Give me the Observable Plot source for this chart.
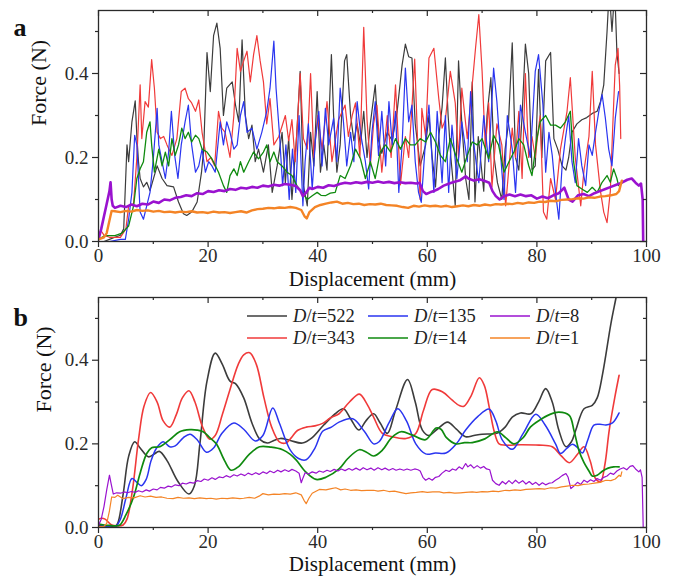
<!DOCTYPE html>
<html><head><meta charset="utf-8">
<script src="https://cdn.jsdelivr.net/npm/d3@7"></script>
<script src="https://cdn.jsdelivr.net/npm/@observablehq/plot@0.6"></script>
<style>
body{margin:0;background:#fff;font-family:"Liberation Serif","Times New Roman",serif;}
#wrap{position:relative;width:678px;height:581px;overflow:hidden;}
.panel{position:absolute;left:0;}
.leg{position:absolute;display:flex;align-items:center;font-size:18.5px;color:#222;white-space:nowrap;line-height:1;}
.leg svg{margin-right:6px;}
</style></head><body>
<div id="wrap"><div id="pa" class="panel" style="top:0"></div><div id="pb" class="panel" style="top:290px"></div></div>
<script>
// ---------- series names / colours ----------
const seriesNames = ["522","343","135","14","8","1"];
const seriesColors = ["#3c3c3c","#f03a3a","#2a35f0","#0f8a0f","#9a12cf","#f48426"];
// ---------- axes ----------
const xMajor = [0,20,40,60,80,100];
const xMinor = [10,30,50,70,90];
const yMajor = [0,0.2,0.4];
const yMinor = [0.1,0.3,0.5];
const xTitle = "Displacement (mm)";
const yTitle = "Force (N)";

// ---------- panel a (raw) [displacement mm, force N] ----------
const blackA = [[0,0],[1,0],[2,0.005],[3,0.01],[4,0.015],[4.6,0.03],[5.2,0.23],[5.5,0.19],[6.1,0.285],[6.7,0.335],[7,0.25],[7.3,0.19],[7.6,0.15],[8.2,0.13],[8.8,0.141],[9.4,0.121],[10.7,0.18],[11.6,0.15],[12.5,0.133],[13.7,0.13],[14.6,0.094],[15.5,0.066],[16.1,0.062],[17,0.07],[18,0.094],[18.8,0.165],[19.2,0.22],[19.8,0.45],[20.4,0.357],[21,0.49],[21.6,0.52],[22.2,0.46],[22.8,0.3],[23.4,0.365],[24.4,0.38],[25,0.325],[25.6,0.285],[26.2,0.48],[26.8,0.3],[27.4,0.245],[28,0.277],[28.6,0.19],[29.2,0.22],[30.1,0.165],[31,0.23],[31.7,0.117],[32.6,0.18],[33.5,0.26],[34.1,0.14],[34.7,0.245],[35.3,0.1],[36.2,0.26],[36.8,0.405],[37.4,0.133],[38.1,0.085],[38.7,0.26],[39.3,0.18],[39.9,0.357],[40.5,0.165],[41.1,0.23],[41.7,0.17],[42.5,0.445],[42.9,0.3],[43.5,0.165],[44.1,0.23],[44.9,0.43],[45.3,0.445],[46,0.3],[46.6,0.24],[47.2,0.28],[47.8,0.23],[48.4,0.31],[49,0.2],[49.6,0.28],[50.5,0.373],[51.1,0.24],[51.7,0.21],[52.7,0.26],[53.6,0.24],[54.5,0.31],[55.4,0.42],[56,0.47],[56.6,0.44],[57.2,0.437],[57.8,0.28],[58.7,0.18],[59.7,0.23],[60.3,0.3],[60.9,0.2],[61.5,0.13],[62.1,0.25],[62.7,0.32],[63.3,0.437],[63.8,0.3],[64.3,0.2],[65.1,0.085],[65.7,0.43],[66.3,0.28],[67,0.15],[67.6,0.1],[68.2,0.38],[68.7,0.094],[69.3,0.25],[70.3,0.12],[70.9,0.3],[71.6,0.39],[72.2,0.2],[72.8,0.14],[73.6,0.1],[74.2,0.22],[74.8,0.28],[75.5,0.473],[76.1,0.2],[76.7,0.17],[77.3,0.3],[77.9,0.47],[78.5,0.4],[79.1,0.17],[79.7,0.18],[80.3,0.41],[80.9,0.2],[81.6,0.43],[82.5,0.45],[83.1,0.245],[83.8,0.22],[84.6,0.18],[85.3,0.17],[85.8,0.2],[86.4,0.26],[87.3,0.28],[88.2,0.29],[89.1,0.295],[90.1,0.305],[91,0.31],[91.6,0.333],[92.2,0.373],[92.8,0.5],[93.2,0.6],[93.7,0.5],[94.2,0.6],[94.6,0.45],[95,0.4]];
const redA = [[0,0.02],[0.5,0.025],[1,0.015],[2,0.01],[3,0.01],[4,0.01],[5,0.03],[5.5,0.085],[6.4,0.09],[7,0.2],[7.6,0.373],[7.9,0.245],[8.5,0.333],[9.1,0.32],[9.7,0.433],[10.2,0.365],[10.7,0.26],[11.3,0.245],[11.9,0.25],[12.5,0.23],[13.4,0.205],[14.3,0.245],[15.1,0.357],[15.8,0.365],[16.4,0.34],[17,0.33],[17.7,0.31],[18.3,0.337],[18.9,0.26],[19.8,0.19],[20.5,0.2],[21.2,0.18],[21.9,0.31],[22.5,0.27],[23.1,0.26],[24,0.2],[24.7,0.3],[25.3,0.46],[25.9,0.405],[26.5,0.43],[27.1,0.453],[27.7,0.38],[28.3,0.445],[28.9,0.49],[29.5,0.43],[30.1,0.38],[30.7,0.28],[31.3,0.34],[32,0.23],[32.9,0.25],[34.1,0.3],[34.7,0.24],[35.3,0.29],[35.9,0.19],[36.8,0.4],[37.4,0.245],[38.1,0.22],[38.7,0.4],[39.3,0.2],[40,0.3],[40.8,0.22],[41.7,0.333],[42.6,0.19],[43.8,0.29],[45,0.325],[45.6,0.25],[46.3,0.3],[46.9,0.33],[47.7,0.2],[48.4,0.51],[49,0.29],[49.6,0.18],[50.2,0.28],[50.8,0.325],[51.7,0.165],[52.7,0.3],[53.4,0.2],[54.2,0.373],[55.1,0.135],[56,0.25],[56.6,0.2],[57.2,0.32],[57.7,0.434],[58.2,0.25],[58.7,0.1],[59,0.317],[59.7,0.25],[60.3,0.437],[61.2,0.46],[62.1,0.34],[62.7,0.27],[63.3,0.29],[64.2,0.405],[65.1,0.33],[65.7,0.2],[66.3,0.365],[67.3,0.245],[67.9,0.33],[68.8,0.46],[69.4,0.54],[70,0.405],[70.6,0.22],[71.2,0.33],[71.8,0.13],[72.7,0.28],[73.6,0.23],[74.3,0.085],[75.5,0.27],[76.1,0.2],[76.7,0.31],[77.3,0.15],[77.9,0.4],[78.5,0.2],[79.1,0.25],[79.7,0.2],[80.3,0.27],[80.6,0.3],[81.2,0.07],[81.8,0.053],[82.5,0.15],[83.4,0.1],[84.3,0.22],[85.5,0.31],[86.1,0.39],[87,0.2],[88,0.085],[88.6,0.17],[89.5,0.25],[90.1,0.405],[90.7,0.23],[91.6,0.12],[92.2,0.07],[92.8,0.045],[93.4,0.12],[93.8,0.26],[94.3,0.42],[94.8,0.46],[95.1,0.37],[95.3,0.245]];
const blueA = [[0,0],[2,0],[4,0.005],[4.9,0.005],[5.5,0.053],[6.1,0.117],[6.6,0.253],[7,0.23],[7.6,0.07],[8.2,0.053],[8.8,0.085],[9.4,0.117],[10,0.197],[10.7,0.317],[11,0.23],[11.6,0.19],[12.2,0.15],[12.8,0.213],[13.3,0.31],[13.9,0.205],[14.5,0.15],[15.1,0.23],[15.8,0.285],[16.4,0.325],[17,0.23],[17.7,0.165],[18.3,0.18],[18.9,0.22],[19.5,0.165],[20.1,0.19],[20.7,0.18],[21.3,0.165],[22.2,0.285],[22.8,0.23],[23.4,0.285],[24,0.26],[24.7,0.22],[25.3,0.23],[25.9,0.3],[26.5,0.333],[27.1,0.26],[28,0.27],[28.9,0.22],[29.8,0.26],[30.7,0.31],[31.3,0.365],[32,0.477],[32.4,0.365],[33,0.26],[33.6,0.133],[34.2,0.23],[34.8,0.1],[35.4,0.22],[36,0.117],[36.6,0.3],[37.3,0.085],[37.7,0.19],[38.3,0.28],[39,0.125],[39.6,0.245],[40.2,0.31],[40.8,0.18],[41.4,0.317],[42,0.23],[42.9,0.293],[43.5,0.19],[44.1,0.365],[44.7,0.285],[45.3,0.18],[46,0.26],[46.6,0.19],[47.2,0.333],[47.8,0.26],[48.7,0.19],[49.3,0.125],[49.9,0.26],[50.5,0.333],[51.1,0.205],[51.7,0.31],[52.4,0.18],[53,0.333],[53.6,0.23],[54.2,0.31],[54.8,0.117],[55.4,0.23],[56,0.413],[56.6,0.285],[57.2,0.325],[57.8,0.19],[58.4,0.117],[58.9,0.093],[59.7,0.245],[60.3,0.325],[61.2,0.117],[61.8,0.31],[62.7,0.14],[63.3,0.3],[63.9,0.117],[64.5,0.277],[65.4,0.15],[66.3,0.285],[67.3,0.19],[67.9,0.357],[68.5,0.23],[69.4,0.14],[70.3,0.3],[71.2,0.19],[72.1,0.413],[72.7,0.333],[73.3,0.22],[74,0.1],[74.6,0.3],[75.5,0.22],[76.1,0.117],[77,0.325],[77.9,0.26],[78.8,0.2],[79.7,0.405],[80.3,0.445],[81.1,0.325],[81.6,0.165],[82.2,0.26],[82.8,0.205],[83.4,0.117],[84,0.053],[84.6,0.18],[85.2,0.245],[85.8,0.3],[86.4,0.19],[87,0.14],[87.6,0.245],[88.2,0.18],[88.9,0.133],[89.5,0.23],[90.1,0.205],[90.7,0.26],[91.3,0.31],[91.9,0.35],[92.5,0.293],[93.1,0.22],[93.7,0.18],[94.3,0.293],[94.9,0.357]];
const greenA = [[0,0.005],[1.2,0.014],[3,0.014],[4.3,0.02],[5.5,0.037],[6.4,0.085],[7,0.15],[7.6,0.173],[8.2,0.19],[8.8,0.26],[9.4,0.285],[9.7,0.23],[10.2,0.165],[11,0.22],[11.6,0.18],[12.2,0.213],[12.8,0.18],[13.4,0.245],[14,0.205],[14.6,0.23],[15.2,0.27],[15.8,0.245],[16.4,0.26],[17,0.237],[17.7,0.253],[18.3,0.245],[18.9,0.22],[19.8,0.213],[20.7,0.197],[21.9,0.165],[22.8,0.133],[23.4,0.117],[24,0.157],[24.7,0.173],[25.3,0.157],[25.9,0.19],[26.5,0.165],[27.4,0.19],[28.3,0.213],[29.2,0.197],[30.1,0.213],[30.7,0.23],[31.3,0.19],[32,0.213],[32.6,0.19],[33.5,0.18],[34.4,0.165],[35.3,0.157],[36.2,0.133],[37.1,0.117],[38.1,0.1],[39,0.109],[39.9,0.117],[40.6,0.11],[41.4,0.109],[42.3,0.115],[43.2,0.117],[44.1,0.157],[45,0.15],[46,0.181],[46.9,0.22],[47.8,0.197],[48.7,0.15],[49.6,0.19],[50.5,0.15],[51.4,0.213],[52.4,0.23],[53.3,0.213],[54.2,0.245],[55.1,0.22],[56,0.245],[56.9,0.23],[57.8,0.23],[58.7,0.245],[59.7,0.237],[60.6,0.26],[61.5,0.237],[62.4,0.205],[63.3,0.19],[64.2,0.245],[65.4,0.197],[66.3,0.165],[67.3,0.205],[68.2,0.237],[69.1,0.23],[70,0.245],[71.2,0.197],[72.1,0.253],[73,0.23],[74,0.165],[74.9,0.19],[75.8,0.213],[76.7,0.245],[77.6,0.23],[78.5,0.181],[79.1,0.157],[80,0.245],[80.6,0.285],[81.6,0.3],[82.5,0.277],[83.4,0.277],[84.3,0.27],[85.2,0.285],[86.1,0.31],[86.7,0.19],[87.3,0.133],[88.2,0.125],[89.2,0.117],[90.1,0.129],[91,0.117],[91.9,0.141],[92.8,0.157],[93.4,0.141],[94,0.173],[94.6,0.15],[94.9,0.133]];
const purpleA = [[0,0.005],[0.5,0.03],[1,0.06],[1.5,0.09],[2,0.12],[2.2,0.141],[2.4,0.1],[2.6,0.085],[3,0.08],[4,0.085],[5,0.082],[6,0.088],[7,0.084],[8,0.09],[9,0.088],[10,0.095],[11,0.092],[12,0.1],[13,0.098],[14,0.104],[15,0.106],[16,0.11],[17,0.108],[18,0.115],[19,0.113],[20,0.12],[21,0.118],[22,0.122],[23,0.12],[24,0.125],[25,0.123],[26,0.128],[27,0.126],[28,0.13],[29,0.128],[30,0.133],[31,0.131],[32,0.135],[33,0.133],[34,0.137],[35,0.135],[36,0.132],[36.8,0.122],[37.3,0.108],[37.8,0.115],[38.5,0.128],[39,0.125],[40,0.13],[41,0.128],[42,0.134],[43,0.132],[44,0.137],[45,0.14],[46,0.138],[47,0.141],[48,0.139],[49,0.142],[50,0.14],[51,0.143],[52,0.14],[53,0.142],[54,0.139],[55,0.141],[56,0.139],[57,0.14],[58,0.138],[58.6,0.14],[59.2,0.12],[59.8,0.113],[60.5,0.117],[61.2,0.12],[62,0.125],[63,0.133],[64,0.138],[65,0.142],[66,0.146],[67,0.155],[67.5,0.15],[68.5,0.145],[69.5,0.148],[70.5,0.144],[71.3,0.14],[71.9,0.12],[72.5,0.108],[73.2,0.1],[74,0.108],[75,0.112],[76,0.108],[77,0.112],[78,0.108],[79,0.11],[80,0.102],[81,0.107],[82,0.103],[83,0.11],[84,0.115],[85,0.128],[85.8,0.1],[86.5,0.095],[87.5,0.11],[88.5,0.113],[89.5,0.108],[90.5,0.115],[91.5,0.12],[92.5,0.125],[93.5,0.13],[94.5,0.135],[95.5,0.14],[96.5,0.147],[97.3,0.15],[98,0.14],[98.6,0.133],[99,0.138],[99.3,0.1],[99.4,0]];
const orangeA = [[0,0.005],[1,0.01],[1.5,0.02],[2,0.05],[2.4,0.073],[3,0.072],[4,0.07],[5,0.073],[6,0.071],[7,0.075],[8,0.073],[9,0.074],[10,0.071],[11,0.073],[12,0.07],[13,0.071],[14,0.069],[15,0.071],[16,0.07],[17,0.072],[18,0.069],[19,0.07],[20,0.068],[21,0.071],[22,0.069],[23,0.07],[24,0.068],[25,0.07],[26,0.072],[27,0.069],[28,0.074],[29,0.077],[30,0.078],[31,0.08],[32,0.079],[33,0.081],[34,0.08],[35,0.082],[36,0.08],[37,0.075],[37.6,0.06],[38,0.055],[38.5,0.07],[39.5,0.082],[40.5,0.087],[41.5,0.09],[42.5,0.093],[43.5,0.095],[44.5,0.09],[45.5,0.092],[46.5,0.089],[47.5,0.09],[48.5,0.087],[49.5,0.089],[50.5,0.088],[51.5,0.09],[52.5,0.087],[53.5,0.086],[54.5,0.085],[55.5,0.082],[56.5,0.08],[57.5,0.085],[58.5,0.083],[59.5,0.086],[60.5,0.084],[61.5,0.085],[62.5,0.083],[63.5,0.085],[64.5,0.082],[65.5,0.084],[66.5,0.086],[67.5,0.084],[68.5,0.087],[69.5,0.085],[70.5,0.088],[71.5,0.086],[72.5,0.089],[73.5,0.088],[74.5,0.09],[75.5,0.089],[76.5,0.092],[77.5,0.09],[78.5,0.093],[79.5,0.092],[80.5,0.095],[81.5,0.094],[82.5,0.097],[83.5,0.096],[84.5,0.099],[85.5,0.1],[86.5,0.101],[87.5,0.103],[88.5,0.102],[89.5,0.105],[90.5,0.104],[91.5,0.107],[92.5,0.108],[93.5,0.11],[94.5,0.113],[95,0.12],[95.3,0.135],[95.5,0.145]];

// ---------- panel b (smoothed) ----------
const blackB = [[0,0.005],[1,0.004],[2,0.003],[3,0.003],[3.5,0.01],[4.5,0.08],[5.5,0.17],[6.6,0.205],[7.6,0.19],[9.1,0.169],[10.1,0.175],[11.1,0.182],[12.5,0.16],[14.5,0.11],[16.5,0.08],[17.5,0.1],[18.5,0.2],[19.8,0.35],[21.3,0.417],[22.6,0.39],[24,0.35],[25,0.344],[26.5,0.31],[28,0.25],[29.5,0.21],[30.8,0.202],[32,0.208],[33.2,0.213],[35,0.208],[37.2,0.202],[39,0.215],[41.1,0.245],[43.2,0.272],[44.7,0.284],[46,0.26],[47.5,0.233],[48.8,0.255],[50.2,0.272],[51.4,0.25],[52.7,0.225],[54.2,0.28],[56.4,0.354],[57.8,0.3],[59.1,0.233],[60.3,0.22],[61.8,0.235],[63.7,0.252],[65.3,0.235],[67,0.217],[68.5,0.22],[70,0.223],[72.8,0.226],[74.2,0.24],[75.5,0.264],[77,0.274],[78.9,0.272],[80.3,0.3],[81.6,0.332],[82.8,0.3],[84,0.233],[85.3,0.193],[86.3,0.205],[87.1,0.233],[88.6,0.284],[90.1,0.292],[91,0.31],[92,0.368],[93.5,0.487],[94.4,0.547],[95.5,0.62]];
const redB = [[0,0.02],[0.6,0.022],[1.2,0.02],[2.4,0.006],[3.5,0.004],[4.5,0.006],[5.2,0.02],[6.2,0.09],[7.3,0.21],[8.3,0.29],[9.5,0.323],[10.7,0.3],[11.8,0.255],[13,0.24],[14.2,0.27],[15.3,0.31],[16.5,0.327],[17.6,0.3],[19,0.24],[20.3,0.211],[21.3,0.22],[22.6,0.27],[24,0.33],[25.5,0.39],[26.5,0.413],[27.6,0.418],[28.8,0.39],[30.2,0.31],[31.6,0.24],[33,0.205],[34.2,0.202],[35.2,0.215],[36.3,0.232],[37.9,0.24],[39.5,0.243],[40.9,0.249],[42.3,0.262],[43.9,0.272],[45.8,0.3],[47.6,0.319],[49,0.295],[50.2,0.264],[51.8,0.225],[53.6,0.217],[56.1,0.213],[57.9,0.225],[59.3,0.28],[60.9,0.33],[62.8,0.324],[64.5,0.305],[65.8,0.292],[66.7,0.29],[68,0.315],[69.5,0.358],[70.4,0.34],[71.3,0.288],[72.2,0.23],[73.1,0.2],[74.3,0.197],[77,0.198],[80.4,0.197],[82.8,0.193],[84.4,0.172],[85.9,0.155],[87.4,0.175],[88.6,0.193],[89.7,0.16],[90.7,0.117],[91.6,0.109],[92.4,0.15],[93.2,0.233],[94.2,0.31],[95,0.364]];
const blueB = [[0,0.008],[1,0.005],[2,0.002],[3,0],[4,0.02],[5,0.07],[6.1,0.117],[7,0.108],[7.8,0.1],[8.7,0.115],[9.6,0.16],[10.6,0.19],[11.8,0.205],[13,0.193],[14,0.195],[15.5,0.215],[16.7,0.223],[18,0.21],[19.7,0.18],[21,0.19],[22.5,0.225],[24.7,0.25],[26.5,0.235],[28.6,0.207],[30,0.22],[31.8,0.286],[33,0.25],[35,0.185],[36.5,0.165],[37.9,0.162],[39.5,0.19],[40.9,0.23],[42.5,0.24],[43.9,0.252],[46.4,0.26],[48.5,0.23],[50.2,0.2],[51.2,0.205],[53,0.25],[54.6,0.284],[56.2,0.255],[57.9,0.2],[59.7,0.176],[61.5,0.178],[63.4,0.178],[65.3,0.2],[67,0.233],[69.2,0.265],[71.3,0.283],[72.5,0.255],[73.7,0.209],[75.5,0.187],[77.5,0.225],[79.8,0.271],[81.5,0.245],[83.4,0.2],[84.3,0.177],[85.5,0.19],[86.5,0.199],[87.5,0.19],[88.3,0.178],[89.3,0.21],[90.4,0.245],[91.5,0.247],[92.6,0.245],[93.8,0.25],[95,0.274]];
const greenB = [[0,0.008],[1,0.006],[2,0.005],[3,0.004],[3.9,0.006],[5,0.03],[6.4,0.073],[7.6,0.13],[8.8,0.177],[9.7,0.191],[11.2,0.193],[13,0.21],[14.8,0.229],[16.7,0.234],[18,0.233],[19.1,0.229],[20.3,0.215],[21.5,0.2],[23,0.16],[24.2,0.137],[25.5,0.145],[27.5,0.175],[29.4,0.193],[31.5,0.192],[33.6,0.186],[35,0.175],[36.1,0.161],[37.8,0.133],[39.7,0.115],[41.5,0.12],[43.9,0.14],[45.5,0.165],[47.6,0.186],[48.9,0.18],[50.2,0.171],[51.8,0.185],[53.5,0.215],[55.2,0.229],[57.3,0.221],[59.7,0.21],[61.6,0.238],[62.5,0.235],[63.5,0.215],[65.2,0.2],[66.8,0.203],[68.2,0.203],[70.5,0.212],[72.8,0.229],[74.3,0.215],[75.8,0.2],[77.5,0.215],[78.8,0.24],[80.4,0.256],[82.3,0.27],[84,0.276],[85.9,0.268],[86.8,0.23],[87.7,0.183],[88.6,0.155],[89.5,0.135],[90.1,0.123],[91,0.125],[92,0.135],[93,0.142],[94,0.145],[95,0.145]];
const purpleB = [[0,0.005],[0.5,0.02],[1,0.05],[1.5,0.09],[2,0.125],[2.3,0.105],[2.7,0.08],[3.3,0.083],[4,0.082],[4.7,0.085],[5.3,0.083],[6,0.086],[6.7,0.084],[7.3,0.088],[8,0.085],[8.7,0.09],[9.3,0.087],[10,0.092],[10.7,0.09],[11.3,0.096],[12,0.094],[12.7,0.099],[13.3,0.097],[14,0.102],[14.7,0.1],[15.3,0.106],[16,0.104],[16.7,0.108],[17.3,0.106],[18,0.112],[18.7,0.11],[19.3,0.116],[20,0.113],[20.7,0.119],[21.3,0.115],[22,0.121],[22.7,0.119],[23.3,0.124],[24,0.12],[24.7,0.126],[25.3,0.123],[26,0.128],[26.7,0.124],[27.3,0.13],[28,0.126],[28.7,0.131],[29.3,0.127],[30,0.133],[30.7,0.129],[31.3,0.135],[32,0.131],[32.7,0.137],[33.3,0.133],[34,0.138],[34.7,0.134],[35.3,0.139],[36,0.135],[36.6,0.13],[37,0.107],[37.3,0.118],[37.7,0.131],[38.3,0.128],[39,0.133],[39.7,0.13],[40.3,0.135],[41,0.132],[41.7,0.137],[42.3,0.134],[43,0.139],[43.7,0.135],[44.3,0.14],[45,0.136],[45.7,0.141],[46.3,0.137],[47,0.142],[47.7,0.137],[48.3,0.143],[49,0.138],[49.7,0.142],[50.3,0.137],[51,0.143],[51.7,0.138],[52.3,0.142],[53,0.137],[53.7,0.141],[54.3,0.137],[55,0.14],[55.7,0.137],[56.3,0.14],[57,0.137],[57.7,0.14],[58.3,0.138],[58.7,0.135],[59.2,0.12],[59.7,0.113],[60.3,0.118],[60.9,0.113],[61.5,0.12],[62.1,0.122],[62.7,0.13],[63.4,0.137],[64,0.134],[64.6,0.14],[65.2,0.137],[65.8,0.145],[66.4,0.14],[67,0.153],[67.4,0.145],[67.9,0.15],[68.5,0.142],[69.1,0.148],[69.7,0.142],[70.3,0.146],[70.8,0.14],[71.4,0.138],[71.9,0.113],[72.5,0.105],[73.1,0.101],[73.7,0.11],[74.3,0.104],[74.9,0.112],[75.5,0.105],[76.1,0.113],[76.7,0.106],[77.4,0.112],[78,0.104],[78.6,0.11],[79.2,0.103],[79.8,0.108],[80.4,0.101],[81,0.107],[81.6,0.102],[82.2,0.106],[82.8,0.107],[83.4,0.113],[84,0.118],[84.6,0.124],[85.3,0.129],[85.7,0.12],[86.2,0.093],[86.8,0.1],[87.4,0.108],[88,0.103],[88.6,0.113],[89.2,0.108],[89.8,0.114],[90.4,0.11],[91,0.117],[91.6,0.113],[92.2,0.12],[92.8,0.123],[93.4,0.13],[94,0.127],[94.6,0.135],[95.2,0.14],[95.8,0.143],[96.4,0.138],[97,0.146],[97.5,0.148],[98,0.14],[98.6,0.133],[98.9,0.138],[99.2,0.12],[99.4,0]];
const orangeB = [[0,0.002],[1,0.003],[1.5,0.01],[2,0.04],[2.4,0.073],[3,0.072],[3.5,0.077],[4.5,0.069],[5.5,0.072],[6.5,0.071],[7.6,0.076],[8.5,0.073],[9.5,0.075],[10.5,0.072],[11.5,0.073],[12.5,0.07],[13.6,0.069],[14.5,0.072],[15.5,0.07],[16.5,0.071],[17.5,0.069],[18.5,0.071],[19.7,0.069],[20.5,0.07],[21.5,0.068],[22.5,0.07],[23.5,0.069],[24.5,0.071],[25.8,0.069],[26.5,0.07],[27.5,0.072],[28.5,0.07],[29.3,0.075],[30,0.081],[31,0.078],[32,0.08],[33,0.079],[34,0.081],[35,0.08],[36,0.083],[37,0.078],[37.5,0.065],[37.9,0.057],[38.4,0.07],[39,0.082],[40.3,0.091],[41.5,0.09],[42.5,0.093],[43.3,0.095],[44.2,0.09],[45,0.092],[46,0.089],[47,0.09],[48,0.088],[49,0.089],[50.2,0.089],[51,0.087],[52,0.089],[53,0.086],[54,0.087],[55,0.084],[56.1,0.081],[57,0.083],[58,0.084],[59.1,0.086],[60,0.084],[61,0.085],[62.2,0.085],[63,0.083],[64,0.084],[65,0.082],[66,0.083],[67,0.084],[68.2,0.085],[69,0.084],[70,0.086],[71,0.085],[72,0.087],[73,0.086],[74.3,0.089],[75,0.088],[76,0.09],[77,0.089],[78,0.091],[79,0.092],[80.4,0.093],[81.5,0.092],[82.5,0.095],[83.5,0.094],[84.5,0.097],[85.5,0.099],[86.5,0.101],[87.5,0.1],[88.5,0.103],[89.5,0.104],[90.5,0.106],[91.5,0.108],[92.6,0.113],[93.5,0.112],[94.3,0.116],[95,0.125],[95.3,0.122],[95.5,0.133]];

const seriesA = [blackA, redA, blueA, greenA, purpleA, orangeA];
const seriesB = [blackB, redB, blueB, greenB, purpleB, orangeB];

const W = 678, ML = 98, MR = 32;
const font = '"Liberation Serif","Times New Roman",serif';

function panel(series, {height, mt, mb, letter, widths, curves, letterDy, titleDy, yTitleDx}) {
  const fw = W - ML - MR, fh = height - mt - mb;
  const lines = series.map((pts, i) => Plot.line(pts, {
    x: d => d[0], y: d => d[1], stroke: seriesColors[i], strokeWidth: widths[i],
    curve: curves[i], clip: true, strokeLinejoin: "round"
  }));
  return Plot.plot({
    width: W, height, marginTop: mt, marginBottom: mb, marginLeft: ML, marginRight: MR,
    x: {domain: [0, 100]}, y: {domain: [0, 0.55]},
    style: {fontFamily: font, fontSize: "19px", color: "#2a2a2a", background: "transparent", overflow: "visible"},
    marks: [
      ...lines,
      Plot.frame({stroke: "#2a2a2a", strokeWidth: 1.3}),
      Plot.axisX({ticks: xMajor, tickSize: 6, tickPadding: 1, tickFormat: d => String(d), label: null, fontSize: 19, strokeWidth: 1.2}),
      Plot.axisX({ticks: xMinor, tickSize: 3, tickFormat: () => "", label: null, strokeWidth: 1.2}),
      Plot.axisY({ticks: yMajor, tickSize: 6, tickPadding: 4, tickFormat: d3.format(".1f"), label: null, fontSize: 19, strokeWidth: 1.2}),
      Plot.axisY({ticks: yMinor, tickSize: 3, tickFormat: () => "", label: null, strokeWidth: 1.2}),
      Plot.tickX(xMajor, {x: d => d, insetBottom: fh - 6, stroke: "#2a2a2a", strokeWidth: 1.2}),
      Plot.tickX(xMinor, {x: d => d, insetBottom: fh - 3, stroke: "#2a2a2a", strokeWidth: 1.2}),
      Plot.tickY(yMajor, {y: d => d, insetLeft: fw - 6, stroke: "#2a2a2a", strokeWidth: 1.2}),
      Plot.tickY(yMinor, {y: d => d, insetLeft: fw - 3, stroke: "#2a2a2a", strokeWidth: 1.2}),
      Plot.text([xTitle], {frameAnchor: "bottom", dy: titleDy, fontSize: 21, fill: "#111"}),
      Plot.text([yTitle], {frameAnchor: "left", rotate: -90, dx: yTitleDx, fontSize: 22, fill: "#111"}),
      Plot.text([letter], {frameAnchor: "top-left", dx: -85, dy: letterDy, textAnchor: "start", fontSize: 26, fontWeight: "bold", fill: "#111"})
    ]
  });
}

document.getElementById("pa").append(panel(seriesA, {
  height: 290, mt: 10, mb: 49, letter: "a",
  widths: [1.2, 1.2, 1.2, 1.3, 2.6, 2.4],
  curves: ["linear","linear","linear","linear","linear","linear"],
  letterDy: 7, titleDy: 44, yTitleDx: -60
}));
document.getElementById("pb").append(panel(seriesB, {
  height: 291, mt: 7, mb: 54, letter: "b",
  widths: [1.6, 1.6, 1.5, 1.7, 1.2, 1.2],
  curves: ["catmull-rom","catmull-rom","catmull-rom","catmull-rom","linear","linear"],
  letterDy: 10, titleDy: 43, yTitleDx: -55
}));

// ---------- legend (panel b) ----------
const legendCols = [247, 368, 490];
const legendRows = [316, 338];
const wrap = document.getElementById("wrap");
seriesNames.forEach((name, i) => {
  const col = Math.floor(i / 2), row = i % 2;
  const div = document.createElement("div");
  div.className = "leg";
  div.style.left = legendCols[col] + "px";
  div.style.top = (legendRows[row] - 10) + "px";
  div.style.height = "20px";
  div.innerHTML = `<svg width="40" height="4"><line x1="0" x2="40" y1="2" y2="2" stroke="${seriesColors[i]}" stroke-width="1.4"/></svg><span><i>D</i>/<i>t</i>=${name}</span>`;
  wrap.append(div);
});
</script>
</body></html>
